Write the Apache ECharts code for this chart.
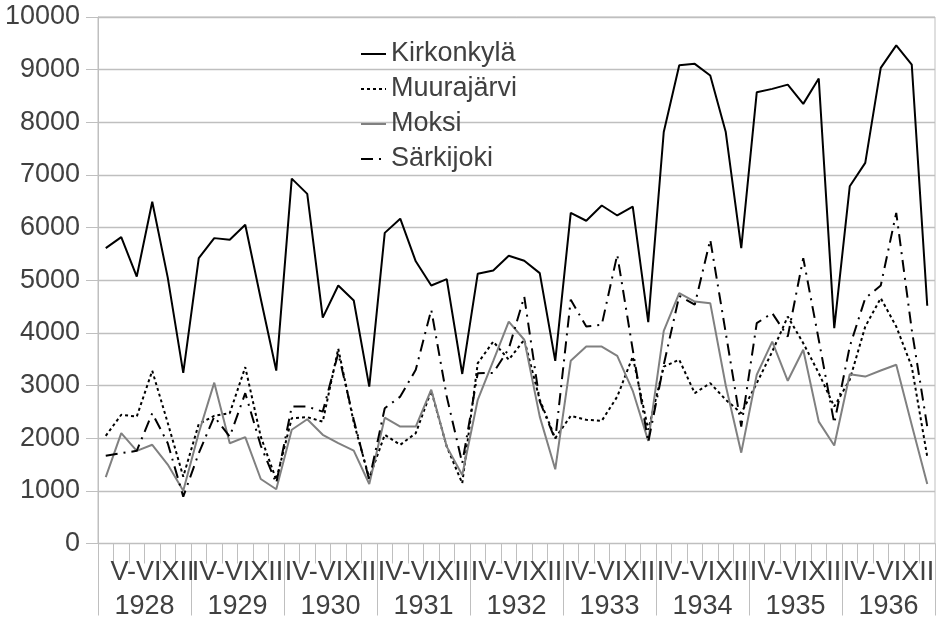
<!DOCTYPE html>
<html>
<head>
<meta charset="utf-8">
<script src="https://cdn.jsdelivr.net/npm/echarts@6/dist/echarts.min.js"></script>
<style>html,body{margin:0;padding:0;background:#fff;}#c{width:945px;height:621px;}</style>
</head>
<body>
<div id="c"></div>
<script>
const years = ["1928","1929","1930","1931","1932","1933","1934","1935","1936"];
const periods = ["I-II","III-IV","V-VI","VII-VIII","IX-X","XI-XII"];
const yearTickText = ["V-VIXII","IV-VIXII","IV-VIXII","IV-VIXII","IV-VIXII","IV-VIXII","IV-VIXII","IV-VIXII","IV-VIXII"];
const yTicks = [0,1000,2000,3000,4000,5000,6000,7000,8000,9000,10000];

const kirkonkyla = [5610,5820,5070,6490,5050,3240, 5420,5800,5770,6055,4650,3285, 6930,6640,4290,4900,4615,2980, 5900,6170,5360,4900,5020,3220, 5125,5185,5465,5370,5135,3470, 6280,6130,6420,6230,6400,4205, 7815,9085,9110,8890,7815,5610, 8570,8635,8715,8350,8830,4090, 6785,7230,9035,9460,9095,4515];
const muurajarvi = [2045,2445,2410,3280,2290,1270, 2270,2425,2475,3350,2030,1210, 2380,2400,2315,3700,2300,1240, 2065,1875,2095,2900,1840,1145, 3425,3835,3490,3870,2730,2000, 2425,2350,2330,2790,3550,2160, 3360,3490,2855,3045,2730,2475, 3045,3645,4310,3805,3235,2600, 3110,4120,4660,4120,3360,1650];
const moksi = [1260,2095,1760,1875,1500,1000, 2100,3055,1905,2020,1225,1030, 2160,2360,2065,1905,1765,1130, 2390,2220,2220,2920,1840,1300, 2730,3470,4215,3870,2410,1410, 3470,3740,3740,3565,2900,1950, 4040,4755,4595,4565,3000,1725, 3205,3835,3090,3680,2315,1860, 3215,3170,3285,3395,2250,1130];
const sarkijoki = [1665,1715,1760,2475,1905,890, 1715,2410,2030,2855,1860,1145, 2600,2600,2505,3615,2350,1205, 2570,2790,3300,4440,2790,1525, 3235,3240,3700,4690,2700,1970, 4630,4120,4155,5485,3680,1925, 3395,4705,4535,5770,4000,2220, 4185,4375,3930,5420,3870,2285, 3740,4660,4900,6280,4060,2220];

const categories = [];
years.forEach(y => periods.forEach(p => categories.push(y + " " + p)));

const txt = '#404040';
const grey = '#bfbfbf';
const font = 'Liberation Sans, Arial, sans-serif';
const fs = 27;

const chart = echarts.init(document.getElementById('c'), null, {renderer:'canvas'});
chart.setOption({
  animation: false,
  backgroundColor: '#fff',
  textStyle: {fontFamily: font},
  grid: {left: 98, right: 10, top: 17, bottom: 77.5, show: true, borderColor: grey, borderWidth: 1, containLabel: false},
  legend: {
    orient: 'vertical', left: 355, top: 34,
    itemWidth: 25, itemHeight: 14, itemGap: 5,
    itemStyle: {opacity: 0},
    textStyle: {color: txt, fontSize: fs, fontFamily: font, lineHeight: 30},
    data: ['Kirkonkylä','Muurajärvi','Moksi','Särkijoki']
  },
  xAxis: [
    {type:'category', data: categories, position:'bottom', boundaryGap: true,
     axisLine:{show:true, lineStyle:{color: grey, width:1}},
     axisTick:{show:true, interval:0, length:20, lineStyle:{color: grey}},
     axisLabel:{show:false}, splitLine:{show:false}},
    {type:'category', data: years, position:'bottom', offset:0, boundaryGap:true,
     axisLine:{show:false},
     axisTick:{show:true, interval:0, length:72, lineStyle:{color: grey}},
     axisLabel:{show:true, interval:0, margin:50, color: txt, fontSize:fs, fontFamily: font},
     splitLine:{show:false}},
    {type:'category', data: years, position:'bottom', offset:0, boundaryGap:true,
     axisLine:{show:false}, axisTick:{show:false},
     axisLabel:{show:true, interval:0, margin:16, color: txt, fontSize:fs, fontFamily: font,
       formatter: (v, i) => i === 0 ? '{a|' + yearTickText[i] + '}' : yearTickText[i],
       rich:{a:{fontSize:fs, color: txt, fontFamily: font, padding:[0,0,0,16]}}},
     splitLine:{show:false}}
  ],
  yAxis: {
    type:'value', min: yTicks[0], max: yTicks[yTicks.length-1], interval: 1000,
    axisLine:{show:true, lineStyle:{color: grey}},
    axisTick:{show:true, length:12, lineStyle:{color: grey}},
    axisLabel:{color: txt, fontSize:fs, fontFamily: font, margin:18, formatter: v => String(v)},
    splitLine:{show:true, lineStyle:{color: grey, width:1.3}}
  },
  series: [
    {name:'Kirkonkylä', type:'line', data: kirkonkyla, xAxisIndex:0, symbol:'none',
     lineStyle:{color:'#000', width:2}, itemStyle:{color:'#000'}},
    {name:'Muurajärvi', type:'line', data: muurajarvi, xAxisIndex:0, symbol:'none',
     lineStyle:{color:'#000', width:2, type:[3,3]}, itemStyle:{color:'#000'}},
    {name:'Moksi', type:'line', data: moksi, xAxisIndex:0, symbol:'none',
     lineStyle:{color:'#808080', width:2}, itemStyle:{color:'#808080'}},
    {name:'Särkijoki', type:'line', data: sarkijoki, xAxisIndex:0, symbol:'none',
     lineStyle:{color:'#000', width:2, type:[12,6,2,6]}, itemStyle:{color:'#000'}}
  ]
});
</script>
</body>
</html>
